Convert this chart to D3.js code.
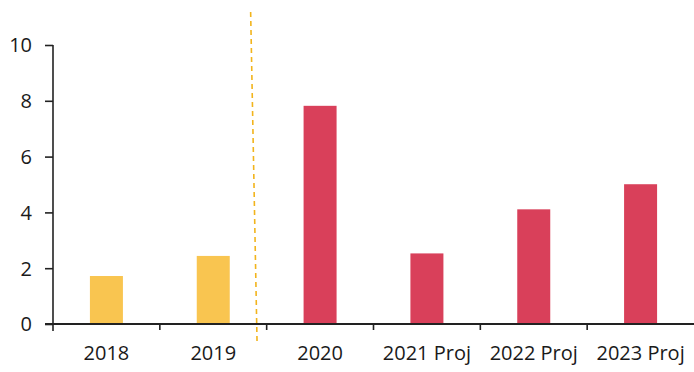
<!DOCTYPE html>
<html>
<head>
<meta charset="utf-8">
<script src="https://cdn.jsdelivr.net/npm/d3@7"></script>
<style>
  html, body { margin: 0; padding: 0; background: #fff; }
  svg { display: block; }
  text { font-family: "Open Sans", sans-serif; fill: #1a1a1a; }
</style>
</head>
<body>
<svg id="chart" width="694" height="372"></svg>
<script>
const categories = ["2018", "2019", "2020", "2021 Proj", "2022 Proj", "2023 Proj"];
const values = [1.72, 2.44, 7.82, 2.53, 4.11, 5.01];
const groups = ["actual", "actual", "new", "new", "new", "new"];
const yTicks = [0, 2, 4, 6, 8, 10];

const mLeft = 53, mRight = 694, mTop = 45, mBottom = 324;
const svg = d3.select("#chart");

const x = d3.scaleBand().domain(categories).range([mLeft, mRight]).paddingInner(0).paddingOuter(0);
const y = d3.scaleLinear().domain([0, 10]).range([mBottom, mTop]);
const color = d3.scaleOrdinal().domain(["actual", "new"]).range(["#F9C550", "#D9405A"]);
const barW = 33;

// bars
svg.append("g").selectAll("rect").data(categories).join("rect")
  .attr("x", d => x(d) + x.bandwidth() / 2 - barW / 2)
  .attr("y", (d, i) => y(values[i]))
  .attr("width", barW)
  .attr("height", (d, i) => y(0) - y(values[i]))
  .attr("fill", (d, i) => color(groups[i]));

// y axis
const yAxis = svg.append("g").attr("transform", `translate(${mLeft},0)`)
  .call(d3.axisLeft(y).tickValues(yTicks).tickSize(8).tickPadding(13).tickFormat(d3.format("d")));
yAxis.select(".domain").attr("d", `M0,${mTop}V${mBottom + 7}`).attr("stroke", "#222").attr("stroke-width", 1.6);
yAxis.selectAll(".tick line").attr("stroke", "#222").attr("stroke-width", 1.6);
yAxis.selectAll(".tick text").attr("font-size", 20).attr("font-family", "Open Sans").attr("fill", "#1a1a1a").attr("dy", "0.34em");

// x axis
const xAxis = svg.append("g").attr("transform", `translate(0,${mBottom})`)
  .call(d3.axisBottom(x).tickSize(0).tickPadding(22));
xAxis.select(".domain").attr("d", `M${mLeft - 8},0H${mRight}`).attr("stroke", "#222").attr("stroke-width", 2);
xAxis.selectAll(".tick text").attr("font-size", 20).attr("font-family", "Open Sans").attr("fill", "#1a1a1a");
// boundary ticks
svg.append("g").selectAll("line").data(categories.slice(1)).join("line")
  .attr("x1", d => x(d)).attr("x2", d => x(d))
  .attr("y1", mBottom).attr("y2", mBottom + 6)
  .attr("stroke", "#222").attr("stroke-width", 1.6);

// dashed separator between actual and later years
const sepTop = x("2019") + x.bandwidth() * 0.85;
const sepBot = x("2019") + x.bandwidth() * 0.91;
svg.append("line")
  .attr("x1", sepTop).attr("y1", 12)
  .attr("x2", sepBot).attr("y2", 342)
  .attr("stroke", "#F2B41C").attr("stroke-width", 1.6)
  .attr("stroke-dasharray", "5,4");
</script>
</body>
</html>
